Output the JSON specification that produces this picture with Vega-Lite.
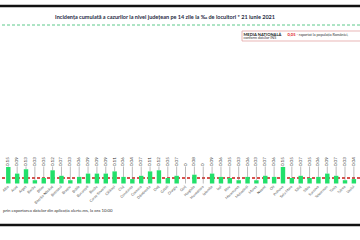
{
  "$schema": "https://vega.github.io/schema/vega-lite/v6.json",
  "width": 360,
  "height": 240,
  "padding": 0,
  "autosize": {"type": "none"},
  "background": "white",
  "config": {"view": {"stroke": null}, "font": "Lato"},
  "datasets": {
    "judete": [
      {"judet": "Alba", "val": 0.15, "label": "0.15"},
      {"judet": "Arad", "val": 0.09, "label": "0.09"},
      {"judet": "Argeș", "val": 0.13, "label": "0.13"},
      {"judet": "Bacău", "val": 0.03, "label": "0.03"},
      {"judet": "Bihor", "val": 0.05, "label": "0.05"},
      {"judet": "Bistrița-Năsăud", "val": 0.12, "label": "0.12"},
      {"judet": "Botoșani", "val": 0.07, "label": "0.07"},
      {"judet": "Brașov", "val": 0.03, "label": "0.03"},
      {"judet": "Brăila", "val": 0.06, "label": "0.06"},
      {"judet": "București", "val": 0.09, "label": "0.09"},
      {"judet": "Buzău", "val": 0.09, "label": "0.09"},
      {"judet": "Caraș-Severin", "val": 0.09, "label": "0.09"},
      {"judet": "Călărași", "val": 0.11, "label": "0.11"},
      {"judet": "Cluj", "val": 0.06, "label": "0.06"},
      {"judet": "Constanța", "val": 0.04, "label": "0.04"},
      {"judet": "Covasna", "val": 0.07, "label": "0.07"},
      {"judet": "Dâmbovița", "val": 0.11, "label": "0.11"},
      {"judet": "Dolj", "val": 0.12, "label": "0.12"},
      {"judet": "Galați", "val": 0.05, "label": "0.05"},
      {"judet": "Giurgiu", "val": 0.07, "label": "0.07"},
      {"judet": "Gorj", "val": 0, "label": "0"},
      {"judet": "Harghita", "val": 0.08, "label": "0.08"},
      {"judet": "Hunedoara", "val": 0, "label": "0"},
      {"judet": "Ialomița", "val": 0.09, "label": "0.09"},
      {"judet": "Iași", "val": 0.06, "label": "0.06"},
      {"judet": "Ilfov", "val": 0.05, "label": "0.05"},
      {"judet": "Maramureș", "val": 0.03, "label": "0.03"},
      {"judet": "Mehedinți", "val": 0.06, "label": "0.06"},
      {"judet": "Mureș", "val": 0.03, "label": "0.03"},
      {"judet": "Neamț", "val": 0.07, "label": "0.07"},
      {"judet": "Olt", "val": 0.06, "label": "0.06"},
      {"judet": "Prahova", "val": 0.15, "label": "0.15"},
      {"judet": "Satu Mare", "val": 0.05, "label": "0.05"},
      {"judet": "Sălaj", "val": 0.07, "label": "0.07"},
      {"judet": "Sibiu", "val": 0.05, "label": "0.05"},
      {"judet": "Suceava", "val": 0.06, "label": "0.06"},
      {"judet": "Teleorman", "val": 0.09, "label": "0.09"},
      {"judet": "Timiș", "val": 0.07, "label": "0.07"},
      {"judet": "Tulcea", "val": 0.03, "label": "0.03"},
      {"judet": "Vaslui", "val": 0.04, "label": "0.04"}
    ]
  },
  "layer": [
    {
      "data": {"name": "judete"},
      "encoding": {
        "x": {"field": "judet", "type": "nominal", "sort": null, "axis": null,
              "scale": {"range": [3.87, 358.3], "paddingInner": 0.5, "paddingOuter": 0.25}}
      },
      "layer": [
        {
          "mark": {"type": "rule", "color": "#d9534f", "strokeWidth": 0.8, "strokeDash": [3, 2]},
          "encoding": {"x": null, "y": {"datum": 0.05, "type": "quantitative", "axis": null, "scale": {"domain": [0, 1], "range": [183.5, 73.5]}}}
        },
        {
          "mark": {"type": "rule", "color": "#777777", "strokeWidth": 0.5},
          "encoding": {
            "y": {"field": "val", "type": "quantitative", "axis": null, "scale": {"domain": [0, 1], "range": [183.5, 73.5]}},
            "y2": {"datum": 0.155}
          }
        },
        {
          "mark": {"type": "bar", "color": "#22e06a"},
          "encoding": {
            "y": {"field": "val", "type": "quantitative", "axis": null, "scale": {"domain": [0, 1], "range": [183.5, 73.5]}},
            "y2": {"datum": 0}
          }
        },
        {
          "mark": {"type": "text", "angle": 270, "align": "left", "baseline": "middle", "fontSize": 4.5, "color": "#333333"},
          "encoding": {
            "y": {"datum": 0.158, "type": "quantitative", "axis": null, "scale": {"domain": [0, 1], "range": [183.5, 73.5]}},
            "text": {"field": "label"}
          }
        },
        {
          "mark": {"type": "text", "angle": 315, "align": "right", "baseline": "middle", "fontSize": 3.6, "color": "#555555"},
          "encoding": {
            "y": {"datum": -0.025, "type": "quantitative", "axis": null, "scale": {"domain": [0, 1], "range": [183.5, 73.5]}},
            "text": {"field": "judet"}
          }
        }
      ]
    },
    {
      "data": {"values": [{}]},
      "encoding": {
        "y": {"type": "quantitative", "axis": null, "scale": {"domain": [0, 1], "range": [183.5, 73.5]}}
      },
      "layer": [
        {
          "mark": {"type": "rule", "color": "#111111", "strokeWidth": 2.5},
          "encoding": {"y": {"datum": 1.6136, "type": "quantitative", "axis": null, "scale": {"domain": [0, 1], "range": [183.5, 73.5]}}}
        },
        {
          "mark": {"type": "rule", "color": "#111111", "strokeWidth": 2.5},
          "encoding": {"y": {"datum": -0.377, "type": "quantitative", "axis": null, "scale": {"domain": [0, 1], "range": [183.5, 73.5]}}}
        },
        {
          "mark": {"type": "rule", "color": "#5cc98a", "strokeWidth": 1, "strokeDash": [3, 2]},
          "encoding": {"y": {"datum": 1.4409, "type": "quantitative", "axis": null, "scale": {"domain": [0, 1], "range": [183.5, 73.5]}}}
        },
        {
          "mark": {"type": "text", "align": "center", "baseline": "middle", "fontSize": 5.5, "fontWeight": "bold", "color": "#1f2a44"},
          "encoding": {
            "x": {"datum": 165, "type": "quantitative", "axis": null, "scale": {"domain": [0, 360], "range": [0, 360]}},
            "y": {"datum": 1.5136, "type": "quantitative", "axis": null, "scale": {"domain": [0, 1], "range": [183.5, 73.5]}},
            "text": {"value": "Incidența cumulată a cazurilor la nivel județean pe 14 zile la ‰ de locuitori *  21 iunie 2021"}
          }
        },
        {
          "mark": {"type": "rect", "fill": "white", "stroke": "#e3a3a3", "strokeWidth": 0.8},
          "encoding": {
            "x": {"datum": 242, "type": "quantitative", "axis": null, "scale": {"domain": [0, 360], "range": [0, 360]}},
            "x2": {"datum": 362},
            "y": {"datum": 1.3864, "type": "quantitative", "axis": null, "scale": {"domain": [0, 1], "range": [183.5, 73.5]}},
            "y2": {"datum": 1.2955}
          }
        },
        {
          "mark": {"type": "text", "align": "left", "baseline": "middle", "fontSize": 4.1, "fontWeight": "bold", "color": "#222222"},
          "encoding": {
            "x": {"datum": 243.5, "type": "quantitative", "axis": null, "scale": {"domain": [0, 360], "range": [0, 360]}},
            "y": {"datum": 1.3545, "type": "quantitative", "axis": null, "scale": {"domain": [0, 1], "range": [183.5, 73.5]}},
            "text": {"value": "MEDIA NAȚIONALĂ"}
          }
        },
        {
          "mark": {"type": "text", "align": "left", "baseline": "middle", "fontSize": 4.1, "fontWeight": "bold", "color": "#e02020"},
          "encoding": {
            "x": {"datum": 287.5, "type": "quantitative", "axis": null, "scale": {"domain": [0, 360], "range": [0, 360]}},
            "y": {"datum": 1.3545, "type": "quantitative", "axis": null, "scale": {"domain": [0, 1], "range": [183.5, 73.5]}},
            "text": {"value": "0,05"}
          }
        },
        {
          "mark": {"type": "text", "align": "left", "baseline": "middle", "fontSize": 3.7, "color": "#333333"},
          "encoding": {
            "x": {"datum": 296.5, "type": "quantitative", "axis": null, "scale": {"domain": [0, 360], "range": [0, 360]}},
            "y": {"datum": 1.3545, "type": "quantitative", "axis": null, "scale": {"domain": [0, 1], "range": [183.5, 73.5]}},
            "text": {"value": "- raportat la populația României,"}
          }
        },
        {
          "mark": {"type": "text", "align": "left", "baseline": "middle", "fontSize": 3.7, "color": "#333333"},
          "encoding": {
            "x": {"datum": 243.5, "type": "quantitative", "axis": null, "scale": {"domain": [0, 360], "range": [0, 360]}},
            "y": {"datum": 1.3227, "type": "quantitative", "axis": null, "scale": {"domain": [0, 1], "range": [183.5, 73.5]}},
            "text": {"value": "conform datelor INS"}
          }
        },
        {
          "mark": {"type": "text", "align": "left", "baseline": "middle", "fontSize": 4.3, "color": "#333333"},
          "encoding": {
            "x": {"datum": 3, "type": "quantitative", "axis": null, "scale": {"domain": [0, 360], "range": [0, 360]}},
            "y": {"datum": -0.25, "type": "quantitative", "axis": null, "scale": {"domain": [0, 1], "range": [183.5, 73.5]}},
            "text": {"value": "prin exportarea datelor din aplicația alerte.ms, la ora 10:00"}
          }
        }
      ]
    }
  ],
  "resolve": {"scale": {"x": "independent"}}
}
